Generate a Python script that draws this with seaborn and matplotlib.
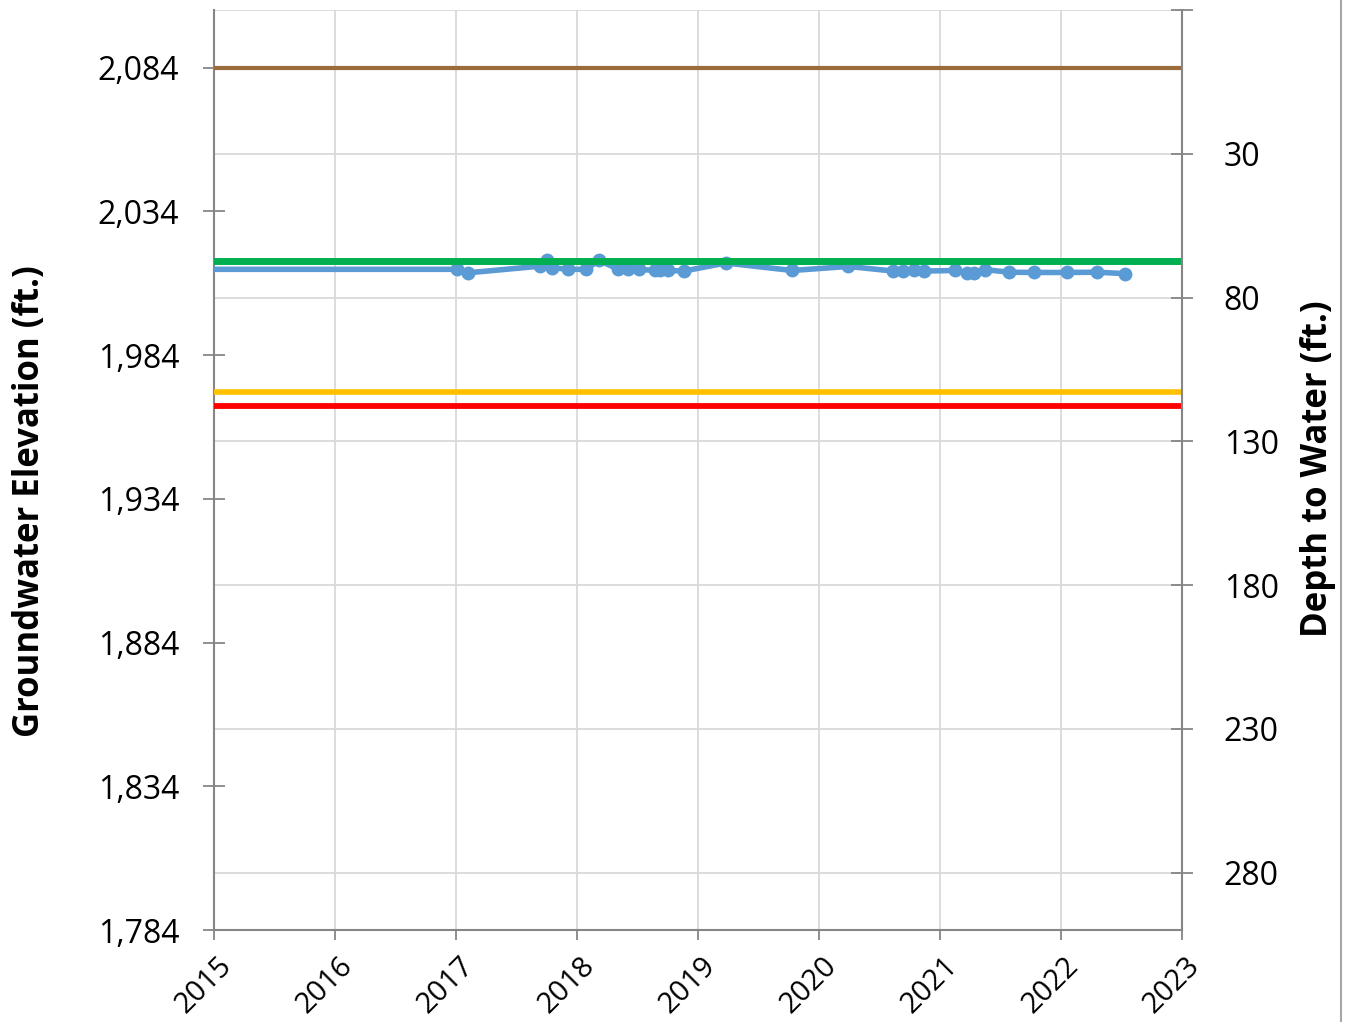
import numpy as np
import pandas as pd
import matplotlib
matplotlib.use("Agg")
import matplotlib.pyplot as plt
import matplotlib.transforms as mtransforms
from matplotlib.lines import Line2D
from matplotlib.ticker import FuncFormatter, FixedLocator
import seaborn as sns

# ---------------- data ----------------
dates = [2014.0, 2017.006, 2017.102, 2017.694, 2017.750, 2017.791, 2017.928, 2018.072,
         2018.184, 2018.341, 2018.424, 2018.515, 2018.645, 2018.686, 2018.755,
         2018.884, 2019.229, 2019.779, 2020.242, 2020.614, 2020.697, 2020.788,
         2020.870, 2021.124, 2021.221, 2021.283, 2021.372, 2021.570, 2021.777,
         2022.052, 2022.295, 2022.529]
elevations = [2013.8, 2013.8, 2012.6, 2014.9, 2017.2, 2014.4, 2013.8, 2013.8,
              2016.9, 2013.8, 2013.8, 2013.8, 2013.4, 2013.4, 2013.4,
              2013.2, 2016.0, 2013.4, 2014.8, 2013.2, 2013.2, 2013.7,
              2013.2, 2013.4, 2012.6, 2012.6, 2013.7, 2012.8, 2012.7,
              2012.7, 2012.8, 2012.3]

ground_surface = 2084.0
measurable_objective = 2016.6
interim_milestone = 1971.0
minimum_threshold = 1966.2

x_ticks = [2015, 2016, 2017, 2018, 2019, 2020, 2021, 2022, 2023]
left_ticks = [1784, 1834, 1884, 1934, 1984, 2034, 2084]
right_ticks = [-20, 30, 80, 130, 180, 230, 280]

df = pd.DataFrame({"date": dates, "elev": elevations})

# ---------------- style ----------------
sns.set_style("white")
plt.rcParams["font.family"] = ["Open Sans", "DejaVu Sans"]
plt.rcParams["text.color"] = "black"
plt.rcParams["xtick.labelcolor"] = "black"
plt.rcParams["ytick.labelcolor"] = "black"
plt.rcParams["axes.labelcolor"] = "black"

fig = plt.figure(figsize=(13.48, 10.22), dpi=100)
ax = fig.add_axes([214/1348, 1-930/1022, 968/1348, 920/1022])

grid_c = "#D9D9D9"
spine_c = "#868686"

ax.set_xlim(2015, 2023)
ax.set_ylim(1784, 2104)

# reference lines
ax.axhline(ground_surface, color="#9C6B3C", lw=3.0, zorder=3)
ax.axhline(interim_milestone, color="#FFC000", lw=4.0, zorder=3)
ax.axhline(minimum_threshold, color="#FF0000", lw=4.2, zorder=3)

sns.lineplot(data=df, x="date", y="elev", ax=ax, color="#5B9BD5", lw=4.0,
             marker="o", markersize=10, markeredgewidth=0, zorder=4,
             estimator=None, sort=True)
ax.axhline(measurable_objective, color="#00B050", lw=5.0, zorder=5)

# grid lines (at depth ticks and year ticks)
ax.set_xticks(x_ticks)
ax.set_yticks(left_ticks)
ax.yaxis.set_minor_locator(FixedLocator([ground_surface - d for d in right_ticks]))
ax.grid(False)
ax.grid(True, which="minor", axis="y", color=grid_c, lw=1.3, zorder=0)
ax.grid(True, which="major", axis="x", color=grid_c, lw=1.3, zorder=0)
ax.set_axisbelow(True)

ax.yaxis.set_major_formatter(FuncFormatter(lambda v, p: f"{int(v):,}"))
ax.tick_params(axis="y", which="major", direction="inout", length=16, width=1.3,
               color=spine_c, labelsize=23, pad=17, left=True)
ax.tick_params(axis="y", which="minor", length=0)
ax.tick_params(axis="x", which="major", direction="out", length=7, width=1.3,
               color=spine_c, labelsize=21, pad=6, bottom=True)

offset = mtransforms.ScaledTranslation(3/100, -3/100, fig.dpi_scale_trans)
for lab in ax.get_xticklabels():
    lab.set_rotation(45)
    lab.set_ha("right")
    lab.set_va("top")
    lab.set_rotation_mode("anchor")
    lab.set_transform(lab.get_transform() + offset)

for s in ["top", "right"]:
    ax.spines[s].set_visible(False)
for s in ["left", "bottom"]:
    ax.spines[s].set_color(spine_c)
    ax.spines[s].set_linewidth(1.5)

ax.set_xlabel("")
ax.set_ylabel("Groundwater Elevation (ft.)", fontsize=25, fontweight="bold")
ax.yaxis.set_label_coords((48-214)/968, 1-(501-10)/920)

# right axis: depth to water
ax2 = ax.twinx()
ax2.set_ylim(ground_surface - 1784, ground_surface - 2104)
ax2.set_yticks(right_ticks)
ax2.yaxis.set_major_formatter(FuncFormatter(lambda v, p: "" if v < 0 else f"{int(v)}"))
ax2.tick_params(axis="y", direction="inout", length=16, width=1.3, color=spine_c,
                labelsize=23, pad=22)
for s in ["top", "left", "bottom"]:
    ax2.spines[s].set_visible(False)
ax2.spines["right"].set_color(spine_c)
ax2.spines["right"].set_linewidth(1.5)
ax2.grid(False)
ax2.set_ylabel("Depth to Water (ft.)", fontsize=25, fontweight="bold")
ax2.yaxis.set_label_coords((1300-214)/968, 1-(469-10)/920)

# figure border line on the right
fig.add_artist(Line2D([1341/1348, 1341/1348], [0, 1], transform=fig.transFigure,
                      color="#A6A6A6", lw=1.5))

fig.savefig("out.png", dpi=100)
